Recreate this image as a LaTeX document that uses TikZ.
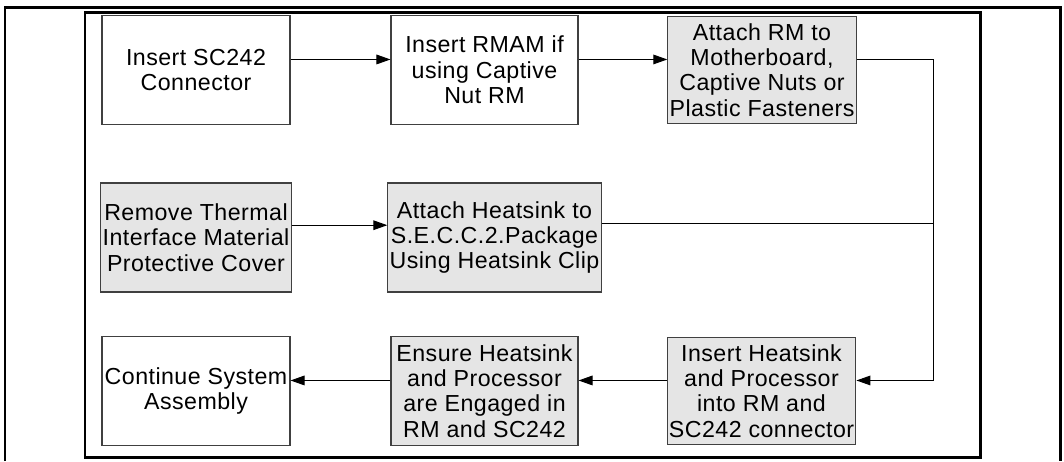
\documentclass[tikz,border=0pt]{standalone}
\usepackage{fontspec}
\setmainfont{Liberation Sans}[LetterSpace=2]
\usetikzlibrary{arrows.meta, positioning}

\begin{document}
\begin{tikzpicture}[x=0.02cm, y=-0.02cm,
    stepbox/.style={draw=black!75, line width=0.6pt, fill=white,
      minimum width=3.76cm, minimum height=2.18cm, inner sep=1pt,
      align=center, font=\fontsize{13.2}{14.4}\selectfont},
    graybox/.style={stepbox, fill=black!10},
    flow/.style={line width=0.6pt, -{Triangle[length=8pt, width=5.5pt]}}]
      \useasboundingbox (0,0) rectangle (1064,461);

      % Outer rule and frame
      \draw[line width=1.7pt] (5,461) -- (5,7) -- (1060,7) -- (1060,461);
      \draw[line width=1.7pt] (85,12) rectangle (980,457);

      % Row 1
      \node[stepbox] (sc) at (196,70) {Insert SC242\\Connector};
      \node[stepbox, minimum width=3.74cm] (rmam) at (484.5,70) {Insert RMAM if\\using Captive\\Nut RM};
      \node[graybox, minimum height=2.14cm] (rm) at (762,70) {Attach RM to\\Motherboard,\\Captive Nuts or\\Plastic Fasteners};

      % Row 2
      \node[graybox] (tim) at (196,237.5) {Remove Thermal\\Interface Material\\Protective Cover};
      \node[graybox, minimum width=4.14cm] (hs) at (494.5,237.5) {Attach Heatsink to\\S.E.C.C.2.Package\\Using Heatsink Clip};

      % Row 3
      \node[stepbox] (cont) at (196,391) {Continue System\\Assembly};
      \node[graybox, minimum width=3.74cm] (ens) at (484.5,391) {Ensure Heatsink\\and Processor\\are Engaged in\\RM and SC242};
      \node[graybox, minimum width=3.74cm, minimum height=2.14cm] (ins) at (761.5,391) {Insert Heatsink\\and Processor\\into RM and\\SC242 connector};

      % Connectors
      \coordinate (bend) at ([yshift=6pt, xshift=1.54cm]rm.east);
      \draw[flow] ([yshift=6pt]sc.east) -- ([yshift=6pt]rmam.west);
      \draw[flow] ([yshift=6pt]rmam.east) -- ([yshift=6pt]rm.west);
      \draw[flow] ([yshift=6pt]rm.east) -- (bend) |- ([yshift=6pt]ins.east);
      \draw[flow] ([yshift=7pt]tim.east) -- ([yshift=7pt]hs.west);
      \draw[line width=0.6pt] ([yshift=8pt]hs.east) -| (bend);
      \draw[flow] ([yshift=6pt]ins.west) -- ([yshift=6pt]ens.east);
      \draw[flow] ([yshift=6pt]ens.west) -- ([yshift=6pt]cont.east);
    \end{tikzpicture}
\end{document}
